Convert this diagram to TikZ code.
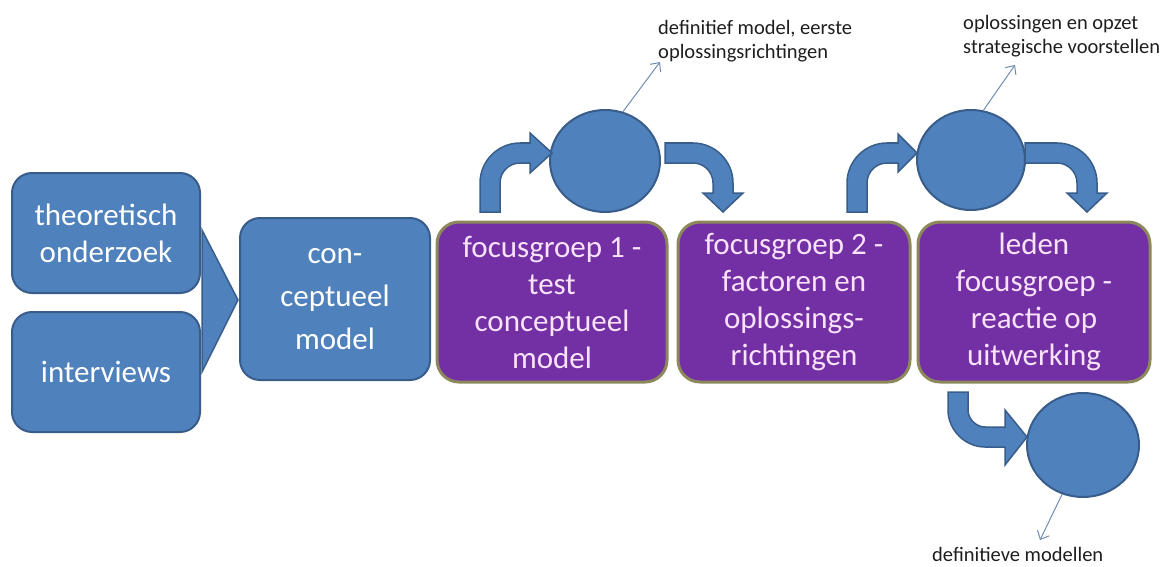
\documentclass[tikz,border=0pt]{standalone}
\usepackage{fontspec}
\setmainfont{Carlito}
\usetikzlibrary{shapes.geometric,arrows.meta}
\definecolor{stepblue}{RGB}{79,129,189}
\definecolor{stepblueedge}{RGB}{56,93,138}
\definecolor{phasepurple}{RGB}{114,48,164}
\definecolor{phaseedge}{RGB}{140,136,92}
\definecolor{phasetext}{RGB}{250,226,250}
\definecolor{notearrow}{RGB}{112,140,178}
\definecolor{notetext}{RGB}{30,30,30}
\tikzset{
  bluebox/.style={draw=stepblueedge, line width=2pt, fill=stepblue, rounded corners=20pt,
    text=white, align=center, font=\fontsize{31}{37}\selectfont, inner sep=0pt},
  phasebox/.style={draw=phaseedge, line width=3pt, fill=phasepurple, rounded corners=22pt,
    text=phasetext, align=center, font=\fontsize{31}{37}\selectfont, inner sep=0pt,
    minimum width=230pt, minimum height=160pt},
  resultdot/.style={ellipse, draw=stepblueedge, line width=2pt, fill=stepblue, inner sep=0pt},
  blockarrow/.style={draw=stepblueedge, line width=1.5pt, fill=stepblue, line join=miter},
  notelink/.style={draw=notearrow, line width=1pt, -{Straight Barb[length=7pt,width=13pt]}},
  note/.style={text=notetext, align=left, anchor=west, inner sep=0pt,
    font=\fontsize{20.5}{23.5}\selectfont}
}
\begin{document}
\begin{tikzpicture}[x=1pt,y=-1pt]
\useasboundingbox (0,0) rectangle (1172,567);

% inputs and merge arrow
\draw[blockarrow] (202,230) -- (238,300) -- (202,372) -- cycle;
\node[bluebox, minimum width=188pt, minimum height=120pt] (th) at (106,233) {theoretisch\\onderzoek};
\node[bluebox, minimum width=188pt, minimum height=120pt] (iv) at (106,372) {interviews};
\node[bluebox, minimum width=190pt, minimum height=162pt,
      font=\fontsize{31}{43}\selectfont] (cm) at (335,299) {con-\\ceptueel\\model};

% phases
\node[phasebox] (f1) at (552,302) {focusgroep 1 -\\test\\conceptueel\\model};
\node[phasebox, minimum width=232pt] (f2) at (794,302) {focusgroep 2 -\\factoren en\\oplossings-\\richtingen};
\node[phasebox, minimum width=232pt] (ld) at (1034,302) {leden\\focusgroep -\\reactie op\\uitwerking};

% results
\node[resultdot, minimum width=110pt, minimum height=102pt] (c1) at (605,161) {};
\node[resultdot, minimum width=108pt, minimum height=100pt] (c2) at (971,160) {};
\node[resultdot, minimum width=112pt, minimum height=104pt] (c3) at (1083,445) {};

% bent block arrows
\draw[blockarrow] (480,212) -- (480,183) .. controls (480,161) and (498,143) .. (520,143)
  -- (530,143) -- (530,133) -- (552,153) -- (530,173) -- (530,163) -- (520,163)
  .. controls (509,163) and (500,172) .. (500,183) -- (500,212) -- cycle;
\draw[blockarrow] (665,143) -- (693,143) .. controls (715,143) and (733,161) .. (733,183)
  -- (733,193) -- (743,193) -- (723,212) -- (703,193) -- (713,193) -- (713,183)
  .. controls (713,172) and (704,163) .. (693,163) -- (665,163) -- cycle;
\draw[blockarrow] (847,212) -- (847,183) .. controls (847,161) and (865,143) .. (887,143)
  -- (898,143) -- (898,134) -- (917,153) -- (898,172) -- (898,163) -- (887,163)
  .. controls (876,163) and (867,172) .. (867,183) -- (867,212) -- cycle;
\draw[blockarrow] (1025,143) -- (1057,143) .. controls (1079,143) and (1097,161) .. (1097,183)
  -- (1097,193) -- (1107,193) -- (1087,212) -- (1067,193) -- (1077,193) -- (1077,183)
  .. controls (1077,172) and (1068,163) .. (1057,163) -- (1025,163) -- cycle;
\draw[blockarrow] (948,392) -- (968,392) -- (968,410) .. controls (968,419) and (976,427) .. (985,427)
  -- (1005,427) -- (1005,410) -- (1027,437) -- (1005,465) -- (1005,447) -- (985,447)
  .. controls (965,447) and (948,430) .. (948,410) -- cycle;

% notes
\node[note] (n1) at (658,41) {definitief model, eerste\\oplossingsrichtingen};
\node[note] (n2) at (963,36) {oplossingen en opzet\\strategische voorstellen};
\node[note] (n3) at (932,554) {definitieve modellen};
\coordinate (e1) at (660,62);
\coordinate (e2) at (1015,65);
\coordinate (e3) at (1040,540);
\draw[notelink] (c1.70) -- (e1);
\draw[notelink] (c2.76) -- (e2);
\draw[notelink] (c3.247) -- (e3);
\end{tikzpicture}
\end{document}
